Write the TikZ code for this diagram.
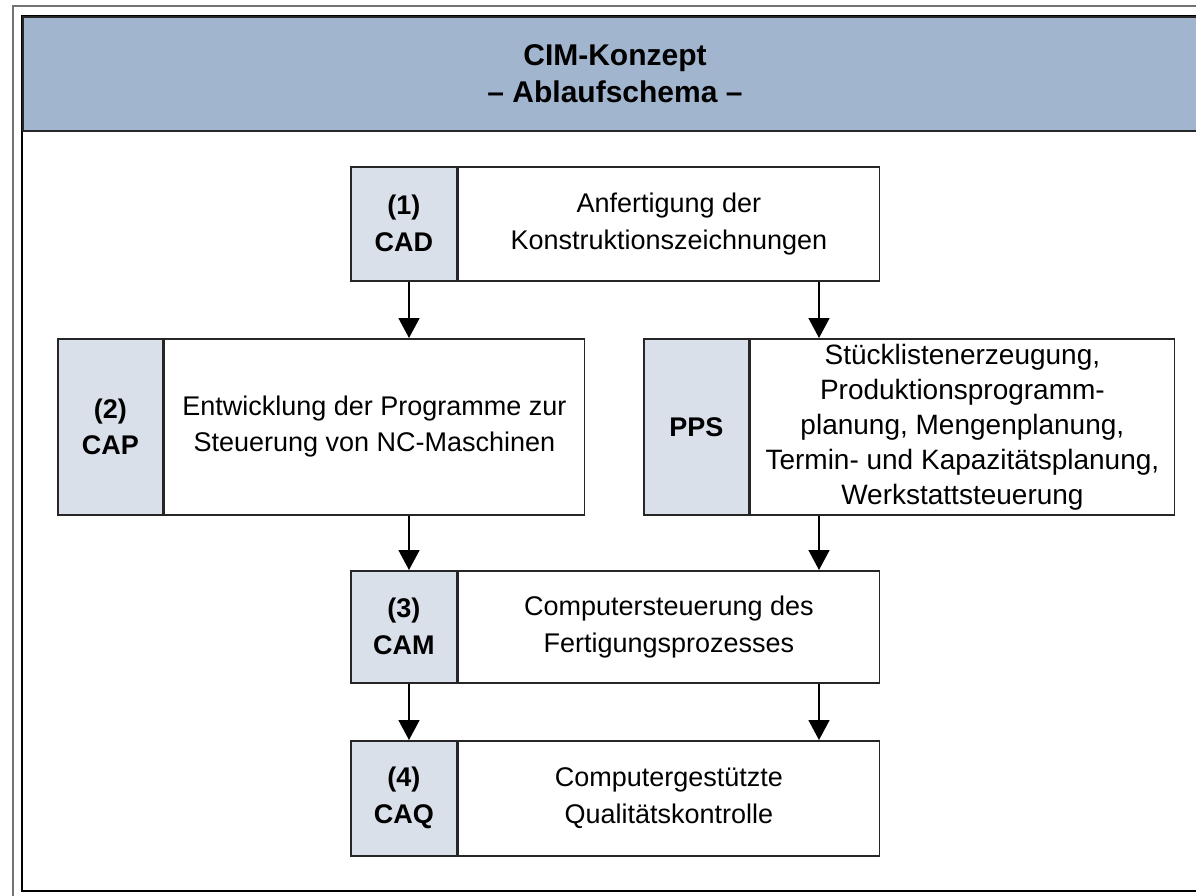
\documentclass[tikz,border=0pt]{standalone}
\usepackage{fontspec}
\setmainfont{Liberation Sans}
\usetikzlibrary{arrows.meta}
\definecolor{headblue}{HTML}{A2B5CE}
\definecolor{tagblue}{HTML}{DAE0EA}
\tikzset{
  box/.style={draw=black!85, line width=1.6pt, inner sep=0pt, anchor=north west,
    align=center, font=\fontsize{27}{37}\selectfont},
  tagbox/.style={box, fill=tagblue, minimum width=106pt, font=\bfseries\fontsize{27}{37}\selectfont},
  textbox/.style={box, fill=white},
  arr/.style={line width=1.6pt, -{Triangle[width=21pt,length=20pt]}},
}
\begin{document}
\begin{tikzpicture}[x=1pt,y=-1pt]
\useasboundingbox (0,0) rectangle (1196,896);
\clip (0,0) rectangle (1196,896);
% frames
\draw[line width=2pt, black!55] (13,6) rectangle (1220,920);
\draw[line width=2pt] (22,16) rectangle (1206,891);
\node[box, fill=headblue, line width=2pt, minimum width=1184pt, minimum height=114pt,
  font=\bfseries\fontsize{30}{37}\selectfont] (head) at (22,16) {CIM-Konzept\\– Ablaufschema –};

% (1) CAD
\node[tagbox, minimum height=114pt] (cadL) at (350,166) {(1)\\CAD};
\node[textbox, minimum width=421pt, minimum height=114pt] (cadT) at (cadL.north east)
  {Anfertigung der\\Konstruktionszeichnungen};

% (2) CAP and PPS
\node[tagbox, minimum width=105pt, minimum height=176pt, font=\bfseries\fontsize{27}{36}\selectfont]
  (capL) at (57,338) {(2)\\CAP};
\node[textbox, minimum width=420pt, minimum height=176pt, font=\fontsize{27}{36}\selectfont]
  (capT) at (capL.north east) {Entwicklung der Programme zur\\Steuerung von NC-Maschinen};
\node[tagbox, minimum width=105pt, minimum height=176pt] (ppsL) at (643,338) {PPS};
\node[textbox, minimum width=424pt, minimum height=176pt, font=\fontsize{28}{35}\selectfont]
  (ppsT) at (ppsL.north east) {Stücklistenerzeugung,\\Produktionsprogramm-\\planung, Mengenplanung,\\Termin- und Kapazitätsplanung,\\Werkstattsteuerung};

% (3) CAM
\node[tagbox, minimum height=112pt] (camL) at (350,570) {(3)\\CAM};
\node[textbox, minimum width=421pt, minimum height=112pt] (camT) at (camL.north east)
  {Computersteuerung des\\Fertigungsprozesses};

% (4) CAQ
\node[tagbox, minimum height=115pt] (caqL) at (350,740) {(4)\\CAQ};
\node[textbox, minimum width=421pt, minimum height=115pt] (caqT) at (caqL.north east)
  {Computergestützte\\Qualitätskontrolle};

% arrows
\coordinate (colL) at (409,0);
\coordinate (colR) at (819,0);
\draw[arr] (cadL.south -| colL) -- (capT.north -| colL);
\draw[arr] (cadT.south -| colR) -- (ppsT.north -| colR);
\draw[arr] (capT.south -| colL) -- (camL.north -| colL);
\draw[arr] (ppsT.south -| colR) -- (camT.north -| colR);
\draw[arr] (camL.south -| colL) -- (caqL.north -| colL);
\draw[arr] (camT.south -| colR) -- (caqT.north -| colR);
\end{tikzpicture}
\end{document}
